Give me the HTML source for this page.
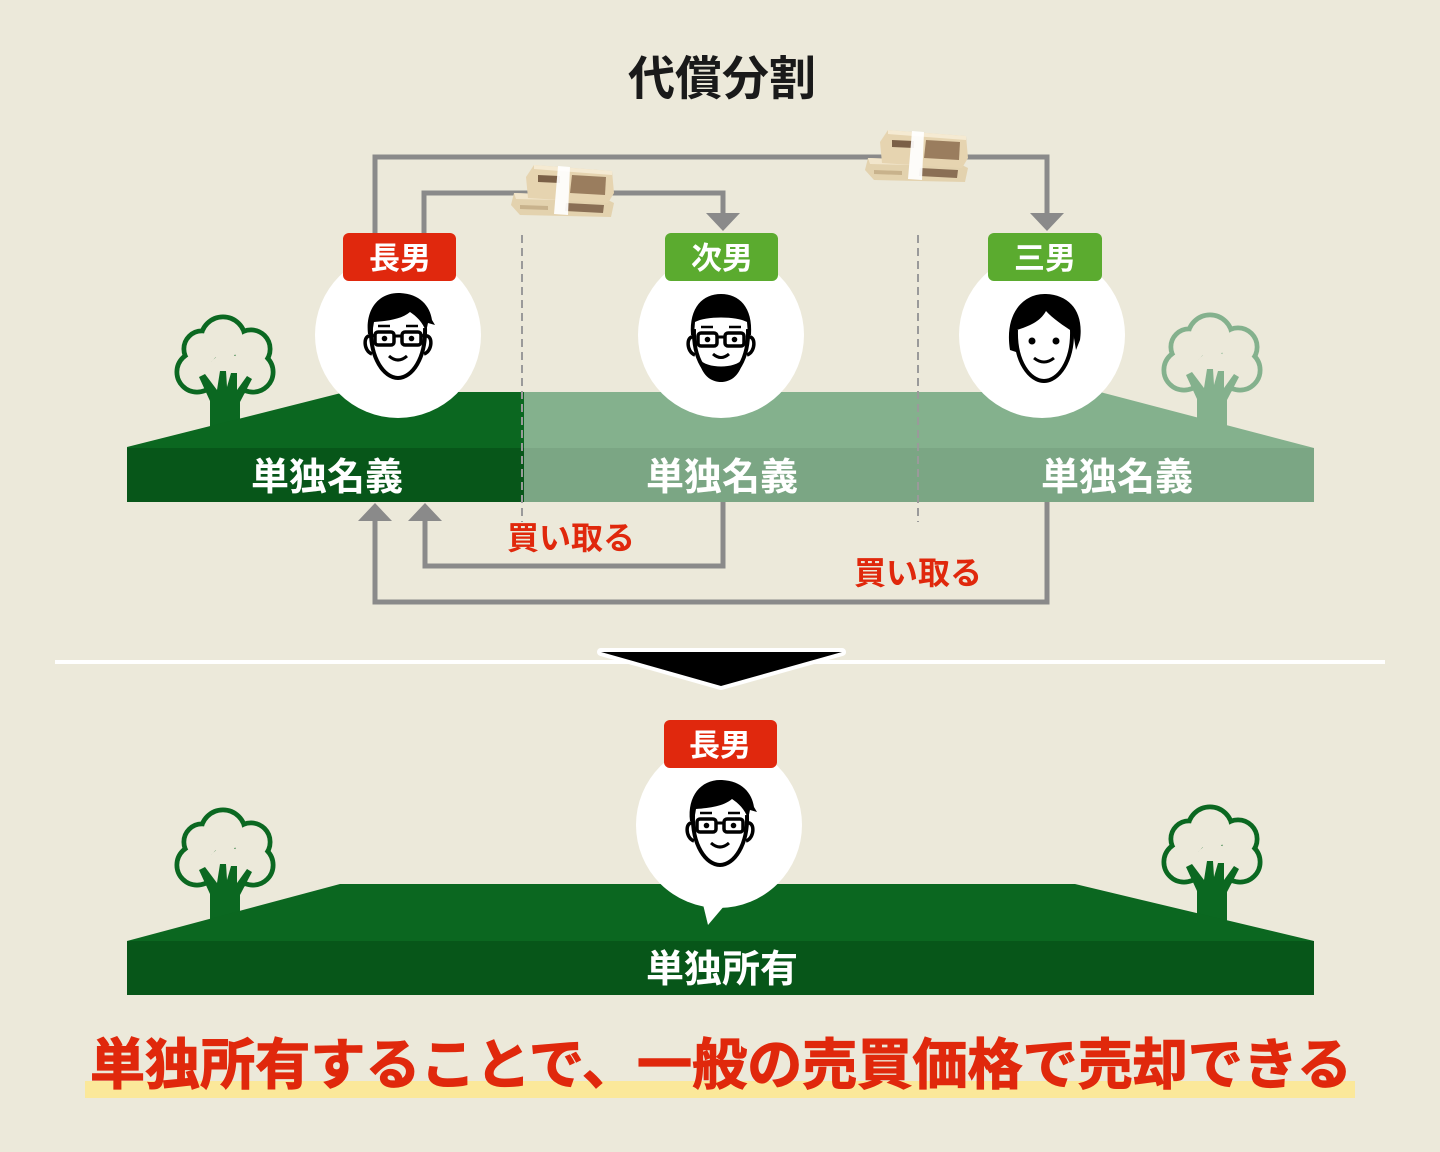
<!DOCTYPE html>
<html><head><meta charset="utf-8"><style>
html,body{margin:0;padding:0;background:#ece9da;}
svg{display:block;}
text{font-family:"Liberation Sans","Noto Sans CJK JP",sans-serif;}
</style></head><body>
<svg width="1440" height="1152" viewBox="0 0 1440 1152" xmlns="http://www.w3.org/2000/svg">
<defs>
  <g id="crown">
    <circle cx="48" cy="24" r="19"/><circle cx="76" cy="34" r="16"/><circle cx="78" cy="57" r="17"/>
    <circle cx="22" cy="57" r="17"/><circle cx="27" cy="34" r="15"/><circle cx="52" cy="60" r="20"/>
  </g>
  <polygon id="trunk" points="35,125 35,86 24,62 30,59 42,75 45,56 51,56 52,72 56,58 62,58 62,75 72,61 77,64 65,87 65,125"/>
  <g id="money">
    <polygon points="6,30 92,33 106,40 103,54 12,52 3,42" fill="#e3d2ae"/>
    <polygon points="6,30 92,33 94,38 8,36" fill="#f2e6cc"/>
    <polygon points="58,40 96,42 95,50 57,48" fill="#8a6f55"/>
    <polygon points="12,42 40,43 40,47 12,46" fill="#c8b28c"/>
    <polygon points="26,2 104,8 106,30 100,40 20,35 18,14" fill="#e6d4b0"/>
    <polygon points="26,2 104,8 104,12 26,6" fill="#f5ead2"/>
    <polygon points="64,12 98,14 97,32 62,30" fill="#9a7d5e"/>
    <polygon points="30,12 52,13 52,20 30,19" fill="#7b6047"/>
    <polygon points="50,3 62,4 60,52 46,51" fill="#ffffff" opacity="0.92"/>
  </g>
</defs>
<rect width="1440" height="1152" fill="#ece9da"/>

<!-- title -->
<text x="722" y="95" font-size="47" font-weight="700" fill="#1a1a1a" text-anchor="middle">代償分割</text>

<!-- trees -->
<g transform="translate(175,315)" fill="#0b6821">
  <use href="#crown" stroke="#0b6821" stroke-width="11"/>
  <use href="#crown" fill="#ece9da" stroke="#ece9da" stroke-width="1.5"/>
  <use href="#trunk"/>
</g>
<g transform="translate(1162,313)" fill="#84b18d">
  <use href="#crown" stroke="#84b18d" stroke-width="11"/>
  <use href="#crown" fill="#ece9da" stroke="#ece9da" stroke-width="1.5"/>
  <use href="#trunk"/>
</g>
<g transform="translate(175,808)" fill="#0b6821">
  <use href="#crown" stroke="#0b6821" stroke-width="11"/>
  <use href="#crown" fill="#ece9da" stroke="#ece9da" stroke-width="1.5"/>
  <use href="#trunk"/>
</g>
<g transform="translate(1162,805)" fill="#0b6821">
  <use href="#crown" stroke="#0b6821" stroke-width="11"/>
  <use href="#crown" fill="#ece9da" stroke="#ece9da" stroke-width="1.5"/>
  <use href="#trunk"/>
</g>

<!-- top land -->
<polygon points="127,447 345,392 524,392 524,448 127,448" fill="#0b6720"/>
<rect x="127" y="448" width="397" height="54" fill="#075619"/>
<polygon points="524,392 1100,392 1314,448 524,448" fill="#84b18d"/>
<rect x="524" y="448" width="790" height="54" fill="#7ba684"/>

<!-- dashed lines -->
<line x1="522" y1="235" x2="522" y2="522" stroke="#9a9a9a" stroke-width="2" stroke-dasharray="8 5"/>
<line x1="918" y1="235" x2="918" y2="522" stroke="#9a9a9a" stroke-width="2" stroke-dasharray="8 5"/>

<!-- connectors -->
<g fill="none" stroke="#8a8a8a" stroke-width="5">
  <polyline points="375,233 375,157 1047,157 1047,215"/>
  <polyline points="424,233 424,193 723,193 723,215"/>
  <polyline points="723,502 723,566 425,566 425,519"/>
  <polyline points="1047,502 1047,602 375,602 375,519"/>
</g>
<g fill="#8a8a8a">
  <polygon points="1030,213 1064,213 1047,231"/>
  <polygon points="706,213 740,213 723,231"/>
  <polygon points="408,521 442,521 425,503"/>
  <polygon points="358,521 392,521 375,503"/>
</g>

<!-- money -->
<use href="#money" transform="translate(508,163)"/>
<use href="#money" transform="translate(862,128)"/>

<!-- circles -->
<circle cx="398" cy="335" r="83" fill="#fff"/>
<circle cx="721" cy="335" r="83" fill="#fff"/>
<circle cx="1042" cy="335" r="83" fill="#fff"/>

<!-- faces: 長男 -->
<g transform="translate(398,336)">
  <path d="M-27,-8 C-28,22 -14,42 0,42 C14,42 28,22 27,-8" fill="#fff" stroke="#000" stroke-width="4"/>
  <path d="M-27,0 C-35,-2 -35,15 -26,18" fill="none" stroke="#000" stroke-width="3.5"/>
  <path d="M27,0 C35,-2 35,15 26,18" fill="none" stroke="#000" stroke-width="3.5"/>
  <path d="M-30,-2 C-33,-28 -18,-44 2,-43 C22,-42 32,-30 34,-16 L37,-11 L30,-13 L28,-4 C25,-14 18,-20 12,-24 C4,-17 -10,-15 -24,-14 L-26,-2 Z" fill="#000"/>
  <rect x="-23" y="-4" width="19" height="13" rx="3" fill="none" stroke="#000" stroke-width="3.5"/>
  <rect x="4" y="-4" width="19" height="13" rx="3" fill="none" stroke="#000" stroke-width="3.5"/>
  <line x1="-4" y1="0" x2="4" y2="0" stroke="#000" stroke-width="3"/>
  <line x1="-23" y1="0" x2="-28" y2="-1" stroke="#000" stroke-width="3"/>
  <line x1="23" y1="0" x2="28" y2="-1" stroke="#000" stroke-width="3"/>
  <circle cx="-13.5" cy="2.5" r="2.8"/><circle cx="13.5" cy="2.5" r="2.8"/>
  <line x1="-20" y1="-10" x2="-8" y2="-10" stroke="#000" stroke-width="2.5"/>
  <line x1="8" y1="-10" x2="20" y2="-10" stroke="#000" stroke-width="2.5"/>
  <path d="M-9,20 Q0,28 9,20" fill="none" stroke="#000" stroke-width="3"/>
</g>
<!-- 次男 -->
<g transform="translate(721,337)">
  <path d="M-27,-8 C-28,22 -14,42 0,42 C14,42 28,22 27,-8" fill="#fff" stroke="#000" stroke-width="4"/>
  <path d="M-27,0 C-35,-2 -35,15 -26,18" fill="none" stroke="#000" stroke-width="3.5"/>
  <path d="M27,0 C35,-2 35,15 26,18" fill="none" stroke="#000" stroke-width="3.5"/>
  <path d="M-30,-2 C-32,-30 -18,-43 0,-43 C18,-43 32,-30 30,-2 L27,-2 L26,-15 C15,-21 -15,-21 -26,-15 L-27,-2 Z" fill="#000"/>
  <path d="M-22,22 C-20,38 -10,45 0,45 C10,45 20,38 22,22 C14,32 -14,32 -22,22 Z" fill="#000"/>
  <rect x="-23" y="-4" width="19" height="13" rx="3" fill="none" stroke="#000" stroke-width="3.5"/>
  <rect x="4" y="-4" width="19" height="13" rx="3" fill="none" stroke="#000" stroke-width="3.5"/>
  <line x1="-4" y1="0" x2="4" y2="0" stroke="#000" stroke-width="3"/>
  <circle cx="-13.5" cy="2.5" r="2.8"/><circle cx="13.5" cy="2.5" r="2.8"/>
  <line x1="-20" y1="-10" x2="-8" y2="-10" stroke="#000" stroke-width="2.5"/>
  <line x1="8" y1="-10" x2="20" y2="-10" stroke="#000" stroke-width="2.5"/>
  <path d="M-8,17 Q0,24 8,17" fill="none" stroke="#000" stroke-width="3"/>
</g>
<!-- 三男 -->
<g transform="translate(1044,338)">
  <path d="M-28,-8 C-29,24 -14,43 0,43 C14,43 29,24 28,-8" fill="#fff" stroke="#000" stroke-width="4"/>
  <path d="M-34,12 C-40,-25 -20,-45 2,-44 C26,-43 40,-26 36,2 L32,12 L29,-6 C20,-12 8,-20 2,-27 C-4,-16 -15,-12 -27,-8 L-28,14 Z" fill="#000"/>
  <circle cx="-12" cy="3" r="3.5"/><circle cx="12" cy="3" r="3.5"/>
  <path d="M-10,20 Q0,28 10,20" fill="none" stroke="#000" stroke-width="3"/>
</g>

<!-- labels -->
<rect x="343" y="233" width="113" height="48" rx="6" fill="#e0280d"/>
<rect x="665" y="233" width="113" height="48" rx="6" fill="#5bab2f"/>
<rect x="988" y="233" width="114" height="48" rx="6" fill="#5bab2f"/>
<g font-size="31" font-weight="700" fill="#fff" text-anchor="middle">
  <text x="400" y="269">長男</text>
  <text x="722" y="269">次男</text>
  <text x="1045" y="269">三男</text>
</g>

<!-- land texts -->
<g font-size="38" font-weight="700" fill="#fff" text-anchor="middle">
  <text x="327" y="490">単独名義</text>
  <text x="722" y="490">単独名義</text>
  <text x="1117" y="490">単独名義</text>
</g>

<!-- 買い取る -->
<g font-size="32" font-weight="700" fill="#e0280c" text-anchor="middle">
  <text x="571" y="549">買い取る</text>
  <text x="918" y="584">買い取る</text>
</g>

<!-- divider -->
<rect x="55" y="660" width="1330" height="4" fill="#fff"/>
<polygon points="601,652 842,652 721,686" fill="#000" stroke="#fff" stroke-width="8" stroke-linejoin="round" paint-order="stroke"/>

<!-- bottom land -->
<polygon points="127,941 340,884 1075,884 1314,941" fill="#0b6720"/>
<rect x="127" y="941" width="1187" height="54" fill="#075619"/>

<!-- bottom bubble -->
<circle cx="719" cy="825" r="83" fill="#fff"/>
<polygon points="700,892 736,892 708,925" fill="#fff"/>
<g transform="translate(720,823)">
  <path d="M-27,-8 C-28,22 -14,42 0,42 C14,42 28,22 27,-8" fill="#fff" stroke="#000" stroke-width="4"/>
  <path d="M-27,0 C-35,-2 -35,15 -26,18" fill="none" stroke="#000" stroke-width="3.5"/>
  <path d="M27,0 C35,-2 35,15 26,18" fill="none" stroke="#000" stroke-width="3.5"/>
  <path d="M-30,-2 C-33,-28 -18,-44 2,-43 C22,-42 32,-30 34,-16 L37,-11 L30,-13 L28,-4 C25,-14 18,-20 12,-24 C4,-17 -10,-15 -24,-14 L-26,-2 Z" fill="#000"/>
  <rect x="-23" y="-4" width="19" height="13" rx="3" fill="none" stroke="#000" stroke-width="3.5"/>
  <rect x="4" y="-4" width="19" height="13" rx="3" fill="none" stroke="#000" stroke-width="3.5"/>
  <line x1="-4" y1="0" x2="4" y2="0" stroke="#000" stroke-width="3"/>
  <circle cx="-13.5" cy="2.5" r="2.8"/><circle cx="13.5" cy="2.5" r="2.8"/>
  <line x1="-20" y1="-10" x2="-8" y2="-10" stroke="#000" stroke-width="2.5"/>
  <line x1="8" y1="-10" x2="20" y2="-10" stroke="#000" stroke-width="2.5"/>
  <path d="M-9,20 Q0,28 9,20" fill="none" stroke="#000" stroke-width="3"/>
</g>
<rect x="664" y="720" width="113" height="48" rx="6" fill="#e0280d"/>
<text x="720" y="756" font-size="31" font-weight="700" fill="#fff" text-anchor="middle">長男</text>

<text x="722" y="982" font-size="38" font-weight="700" fill="#fff" text-anchor="middle">単独所有</text>

<!-- bottom message -->
<rect x="85" y="1081" width="1270" height="17" fill="#fbe89a"/>
<text x="90" y="1084" font-size="55" font-weight="700" fill="#e0280c" stroke="#e0280c" stroke-width="1.2" textLength="1262" lengthAdjust="spacing">単独所有することで、一般の売買価格で売却できる</text>
</svg>
</body></html>
